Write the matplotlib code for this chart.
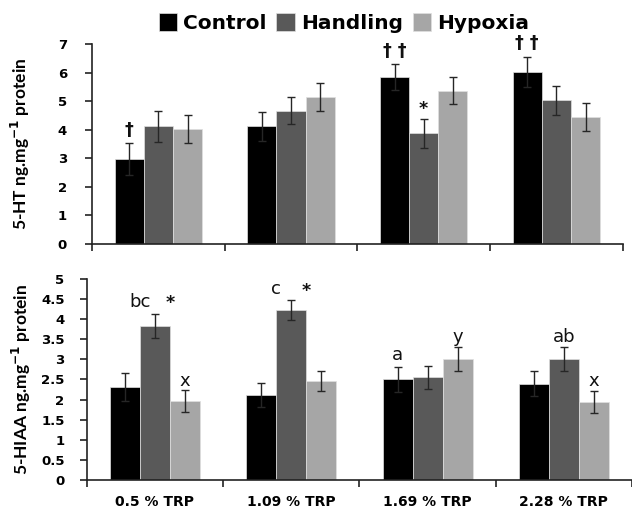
import matplotlib
matplotlib.use('Agg')
import matplotlib.pyplot as plt
import numpy as np
from matplotlib.patches import Patch

# Data
diets = ['0.5 % TRP', '1.09 % TRP', '1.69 % TRP', '2.28 % TRP']
groups = ['Control', 'Handling', 'Hypoxia']
colors = ['#000000', '#595959', '#a6a6a6']

ht_mean = {
    'Control':  [2.97, 4.12, 5.84, 6.01],
    'Handling': [4.12, 4.67, 3.87, 5.03],
    'Hypoxia':  [4.03, 5.15, 5.37, 4.45],
}
ht_err = {
    'Control':  [0.55, 0.50, 0.46, 0.52],
    'Handling': [0.55, 0.47, 0.52, 0.50],
    'Hypoxia':  [0.50, 0.50, 0.47, 0.49],
}
hiaa_mean = {
    'Control':  [2.32, 2.12, 2.50, 2.40],
    'Handling': [3.83, 4.23, 2.55, 3.01],
    'Hypoxia':  [1.96, 2.47, 3.01, 1.94],
}
hiaa_err = {
    'Control':  [0.35, 0.30, 0.30, 0.30],
    'Handling': [0.30, 0.25, 0.29, 0.29],
    'Hypoxia':  [0.27, 0.25, 0.29, 0.27],
}

# significance marks: (diet index, bar offset, y, text, bold)
ht_marks = [(0, -1, 4.0, '\u2020', True), (2, -1, 6.75, '\u2020 \u2020', True),
            (3, -1, 7.02, '\u2020 \u2020', True), (2, 0, 4.74, '*', True)]
hiaa_marks = [(0, -0.5, 4.43, 'bc', False), (0, 0.5, 4.40, '*', True),
              (0, 1, 2.46, 'x', False), (1, -0.5, 4.75, 'c', False),
              (1, 0.5, 4.71, '*', True), (2, -1, 3.11, 'a', False),
              (2, 1, 3.56, 'y', False), (3, 0, 3.56, 'ab', False),
              (3, 1, 2.47, 'x', False)]

x = np.arange(len(diets))
width = 0.22

fig = plt.figure(figsize=(6.32, 5.09), dpi=100)
ax1 = fig.add_axes([0.1456, 0.5206, 0.8397, 0.3929])
ax2 = fig.add_axes([0.1372, 0.0570, 0.8628, 0.3949])


def draw_panel(ax, means, errs, marks, ymax, ystep, ylabel, pad):
    for i, g in enumerate(groups):
        ax.bar(x + (i - 1) * width, means[g], width, color=colors[i],
               edgecolor='#e0e0e0', linewidth=0.5, zorder=2)
        ax.errorbar(x + (i - 1) * width, means[g], yerr=errs[g], fmt='none',
                    ecolor='#262626', elinewidth=1.0, capsize=2.6,
                    capthick=1.0, zorder=3)
    for d, off, y, txt, bold in marks:
        ax.text(d + off * width, y, txt, ha='center', va='center',
                fontsize=13 if not bold else 12.5,
                fontweight='bold' if bold else 'normal', color='#111111')
    ax.set_xlim(-0.5, 3.5)
    ax.set_ylim(0, ymax)
    ax.set_yticks(np.arange(0, ymax + ystep / 2, ystep))
    ax.yaxis.set_major_formatter(plt.FuncFormatter(lambda v, p: f'{v:g}'))
    ax.set_xticks(np.arange(-0.5, 4, 1))
    ax.set_xticklabels([])
    ax.tick_params(axis='both', direction='out', length=5, width=1.2,
                   color='#222222')
    ax.tick_params(axis='y', labelsize=9.5, pad=pad)
    for lab in ax.get_yticklabels():
        lab.set_fontweight('bold')
    for s in ['top', 'right']:
        ax.spines[s].set_visible(False)
    for s in ['left', 'bottom']:
        ax.spines[s].set_linewidth(1.2)
        ax.spines[s].set_color('#222222')
    ax.set_ylabel(ylabel, fontsize=12.5, fontweight='bold', family='Lato')


draw_panel(ax1, ht_mean, ht_err, ht_marks, 7, 1,
           r'5-HT ng.mg$^{\mathbf{-1}}$ protein', 13)
draw_panel(ax2, hiaa_mean, hiaa_err, hiaa_marks, 5, 0.5,
           r'5-HIAA ng.mg$^{\mathbf{-1}}$ protein', 11)
ax1.yaxis.set_label_coords(-0.113, 0.5)
ax2.yaxis.set_label_coords(-0.098, 0.5)

# diet names under the lower panel
ax2.set_xticks(x, minor=True)
ax2.set_xticklabels(diets, minor=True, fontsize=10, fontweight='bold')
ax2.tick_params(axis='x', which='minor', length=0, pad=11)

handles = [Patch(facecolor=c, edgecolor='#e0e0e0', linewidth=0.5) for c in colors]
fig.legend(handles, groups, loc='center', bbox_to_anchor=(0.544, 0.955),
           ncol=3, frameon=False, prop={'weight': 'bold', 'size': 14.5},
           handlelength=0.9, handleheight=1.0, handletextpad=0.3,
           columnspacing=0.5)

fig.savefig('out.png', dpi=100)
